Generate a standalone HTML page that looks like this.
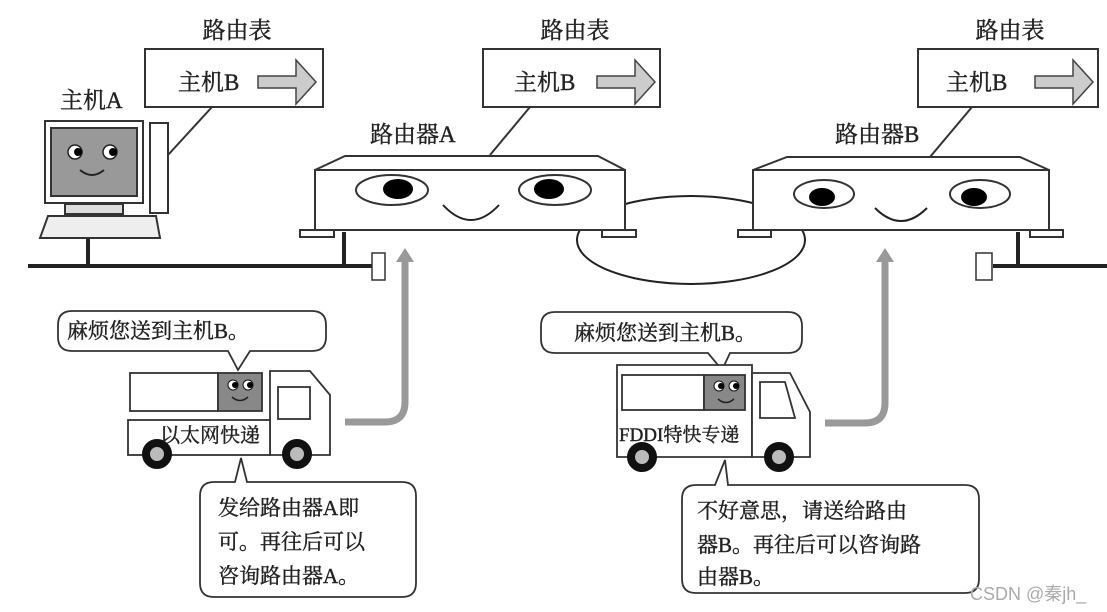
<!DOCTYPE html>
<html><head><meta charset="utf-8"><style>
html,body{margin:0;padding:0;background:#fff;}
svg{display:block;}
text{font-family:"Liberation Serif","Noto Serif CJK SC","Noto Sans CJK SC",serif;fill:#222;stroke:#222;stroke-width:0.4;}
</style></head><body>
<svg width="1107" height="612" viewBox="0 0 1107 612" xmlns="http://www.w3.org/2000/svg">
<g stroke="#333" stroke-width="2" fill="none">
<rect x="145" y="49" width="178" height="58" fill="#fff"/>
<rect x="483" y="49" width="177" height="58" fill="#fff"/>
<rect x="918" y="49" width="180" height="58" fill="#fff"/>
<line x1="168" y1="155" x2="212" y2="107"/>
<line x1="490" y1="155" x2="530" y2="107"/>
<line x1="930" y1="157" x2="972" y2="107"/>
</g>
<g fill="#ccc" stroke="#444" stroke-width="1.5">
<path d="M258 76 h38 v-16 l20 22 l-20 22 v-16 h-38 z"/>
<path d="M597 76 h38 v-16 l20 22 l-20 22 v-16 h-38 z"/>
<path d="M1035 76 h38 v-16 l20 22 l-20 22 v-16 h-38 z"/>
</g>
<g font-size="23">
<text x="237" y="38" text-anchor="middle">路由表</text>
<text x="575" y="38" text-anchor="middle">路由表</text>
<text x="1010" y="38" text-anchor="middle">路由表</text>
<text x="178" y="90">主机B</text>
<text x="514" y="90">主机B</text>
<text x="946" y="90">主机B</text>
<text x="60" y="108">主机A</text>
<text x="370" y="142">路由器A</text>
<text x="835" y="142">路由器B</text>
</g>
<g stroke="#222" stroke-width="4" fill="none">
<line x1="28" y1="266" x2="374" y2="266"/>
<line x1="88" y1="238" x2="88" y2="266"/>
<line x1="344" y1="232" x2="344" y2="266"/>
<line x1="993" y1="266" x2="1107" y2="266"/>
<line x1="1018" y1="232" x2="1018" y2="266"/>
</g>
<g stroke="#333" stroke-width="1.5" fill="#fff">
<rect x="372" y="253" width="13" height="27"/>
<rect x="976" y="253" width="16" height="27"/>
</g>
<g stroke="#333" stroke-width="2">
<rect x="45" y="121" width="98" height="82" fill="#fff"/>
<rect x="51" y="128" width="86" height="68" fill="#999"/>
<rect x="150" y="123" width="18" height="90" fill="#fff"/>
<rect x="65" y="204" width="58" height="10" fill="#ddd"/>
<path d="M48 216 h108 l4 22 h-120 z" fill="#eee"/>
</g>
<g fill="#fff" stroke="#222" stroke-width="1.5"><circle cx="75" cy="152" r="7"/><circle cx="110" cy="152" r="7"/></g>
<circle cx="78" cy="152" r="4" fill="#000"/><circle cx="113" cy="152" r="4" fill="#000"/>
<path d="M80 170 q12 10 24 0" stroke="#222" stroke-width="2" fill="none"/>
<ellipse cx="691" cy="240" rx="114" ry="44" stroke="#222" stroke-width="2" fill="none"/>
<g stroke="#333" stroke-width="2" fill="#fff">
<path d="M315 170 L345 156 L598 156 L625 170 Z"/>
<rect x="315" y="170" width="310" height="60"/>
<rect x="300" y="230" width="34" height="7"/>
<rect x="602" y="230" width="34" height="7"/>
<path d="M753 170 L787 157 L1020 157 L1049 170 Z"/>
<rect x="753" y="170" width="296" height="60"/>
<rect x="738" y="230" width="33" height="7"/>
<rect x="1030" y="230" width="33" height="7"/>
<ellipse cx="392" cy="190" rx="36" ry="15"/>
<ellipse cx="555" cy="190" rx="36" ry="15"/>
<ellipse cx="824" cy="194" rx="30" ry="14"/>
<ellipse cx="980" cy="194" rx="30" ry="14"/>
</g>
<g fill="#000">
<ellipse cx="398" cy="189" rx="15" ry="10"/>
<ellipse cx="549" cy="189" rx="15" ry="10"/>
<ellipse cx="822" cy="197" rx="13" ry="9"/>
<ellipse cx="974" cy="197" rx="13" ry="9"/>
</g>
<g stroke="#222" stroke-width="2" fill="none">
<path d="M443 205 q28 30 56 0"/>
<path d="M875 208 q26 26 52 0"/>
</g>
<g stroke="#999" stroke-width="7" fill="none">
<path d="M345 422 h40 q20 0 20 -20 v-145"/>
<path d="M825 423 h40 q20 0 20 -20 v-145"/>
</g>
<g fill="#999"><path d="M396 262 l9 -14 l9 14 z"/><path d="M876 262 l9 -14 l9 14 z"/></g>
<g stroke="#333" stroke-width="1.8" fill="#fff">
<path d="M72 311 H312 q14 0 14 14 v12 q0 14 -14 14 H250 L238 370 L228 351 H72 q-14 0 -14 -14 v-12 q0 -14 14 -14 z"/>
<path d="M214 482 H235 L241 458 L247 482 H402 q14 0 14 14 v87 q0 14 -14 14 H214 q-14 0 -14 -14 v-87 q0 -14 14 -14 z"/>
<path d="M555 312 H788 q14 0 14 14 v13 q0 14 -14 14 H730 L722 370 L708 353 H555 q-14 0 -14 -14 v-13 q0 -14 14 -14 z"/>
<path d="M696 485 H715 L725 460 L728 485 H965 q14 0 14 14 v80 q0 14 -14 14 H696 q-14 0 -14 -14 v-80 q0 -14 14 -14 z"/>
</g>
<g stroke="#333" stroke-width="1.8" fill="#fff">
<rect x="130" y="373" width="88" height="38"/>
<rect x="218" y="373" width="44" height="38" fill="#888"/>
<path d="M270 371 H310 L330 395 V455 H270 Z"/>
<rect x="278" y="387" width="32" height="32"/>
<rect x="128" y="420" width="142" height="35"/>
<path d="M617 365 H752 V457 H617 Z"/>
<rect x="622" y="375" width="82" height="35"/>
<rect x="704" y="375" width="41" height="35" fill="#888"/>
<path d="M752 373 H790 L810 412 V457 H752 Z"/>
<path d="M760 382 H785 L795 418 H760 Z"/>
</g>
<g fill="#fff" stroke="#111" stroke-width="1"><circle cx="233" cy="385" r="5"/><circle cx="248" cy="385" r="5"/><circle cx="719" cy="386" r="5"/><circle cx="734" cy="386" r="5"/></g>
<g fill="#000"><circle cx="235" cy="385" r="3"/><circle cx="250" cy="385" r="3"/><circle cx="721" cy="386" r="3"/><circle cx="736" cy="386" r="3"/></g>
<g stroke="#222" stroke-width="1.5" fill="none"><path d="M232 397 q8 7 16 0"/><path d="M718 399 q8 7 16 0"/></g>
<g fill="#bbb" stroke="#111" stroke-width="8">
<circle cx="157" cy="454" r="11"/><circle cx="297" cy="454" r="11"/>
<circle cx="642" cy="457" r="11"/><circle cx="779" cy="457" r="11"/>
</g>
<g font-size="21">
<text x="67" y="338">麻烦您送到主机B。</text>
<text x="574" y="340">麻烦您送到主机B。</text>
<text x="218" y="515">发给路由器A即</text>
<text x="218" y="549">可。再往后可以</text>
<text x="218" y="583">咨询路由器A。</text>
<text x="697" y="518">不好意思，请送给路由</text>
<text x="697" y="552">器B。再往后可以咨询路</text>
<text x="697" y="584">由器B。</text>
</g>
<text x="160" y="442" font-size="20">以太网快递</text>
<text x="619" y="441" font-size="19">FDDI特快专递</text>
<text x="970" y="600" font-size="18" style="font-family:'Liberation Sans','Noto Sans CJK SC',sans-serif;fill:#aaa;stroke:none">CSDN @秦jh_</text>
</svg>
</body></html>
